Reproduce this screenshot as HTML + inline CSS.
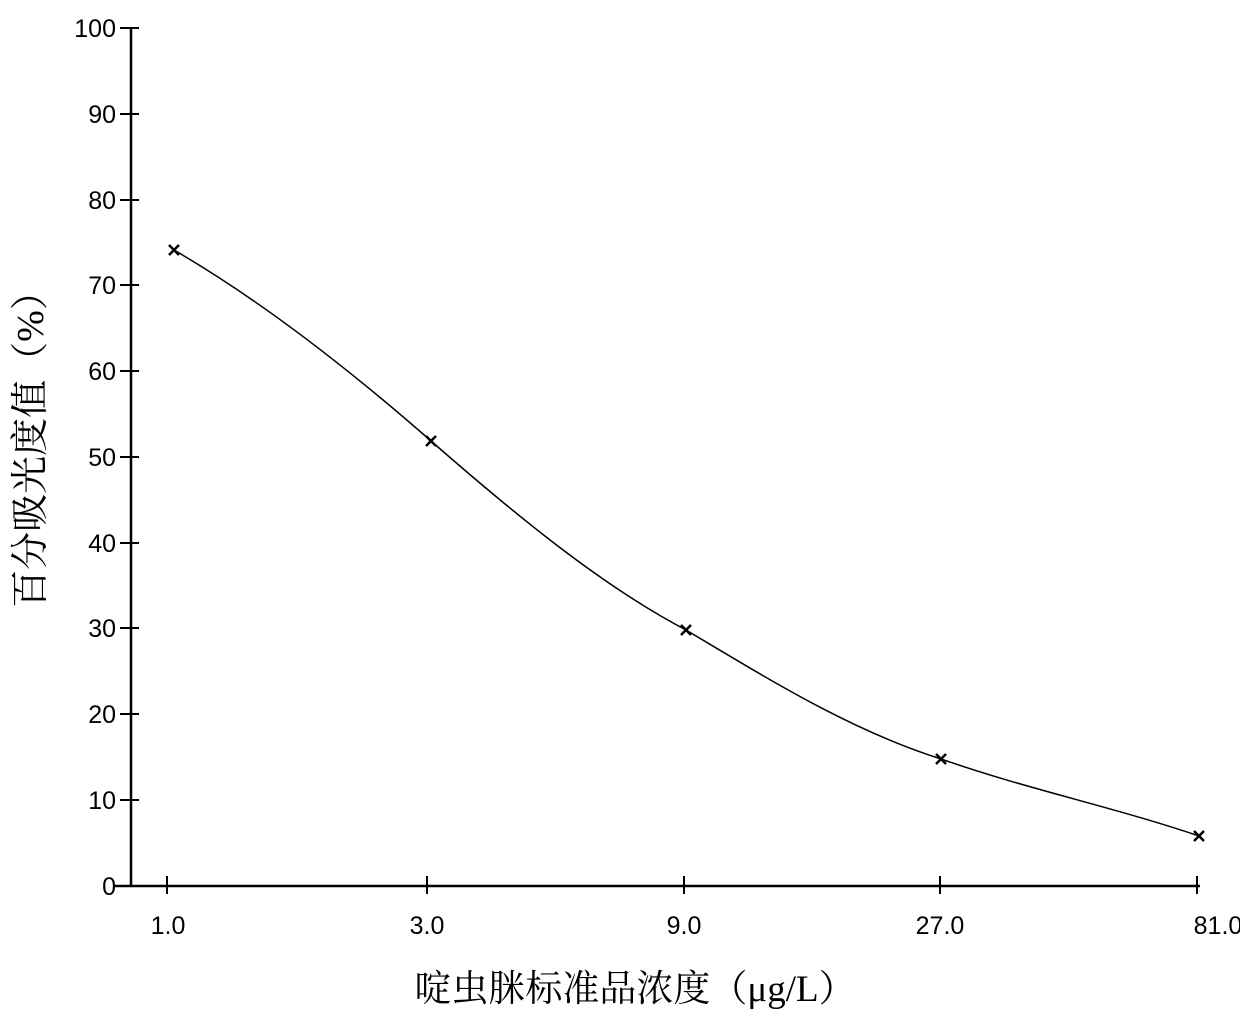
<!DOCTYPE html>
<html><head><meta charset="utf-8"><style>body{margin:0;background:#fff}</style></head><body>
<svg width="1240" height="1024" xmlns="http://www.w3.org/2000/svg" font-family="Liberation Sans, Noto Sans CJK SC, sans-serif">
<g stroke="#000" stroke-width="2.5" fill="none">
<line x1="131" y1="28" x2="131" y2="886"/>
<line x1="113" y1="886" x2="1200" y2="886"/>
<g stroke-width="2">
<line x1="120" y1="28" x2="139" y2="28"/>
<line x1="120" y1="114" x2="139" y2="114"/>
<line x1="120" y1="200" x2="139" y2="200"/>
<line x1="120" y1="285" x2="139" y2="285"/>
<line x1="120" y1="371" x2="139" y2="371"/>
<line x1="120" y1="457" x2="139" y2="457"/>
<line x1="120" y1="543" x2="139" y2="543"/>
<line x1="120" y1="628" x2="139" y2="628"/>
<line x1="120" y1="714" x2="139" y2="714"/>
<line x1="120" y1="800" x2="139" y2="800"/>
<line x1="167" y1="876" x2="167" y2="894"/>
<line x1="427" y1="876" x2="427" y2="894"/>
<line x1="684" y1="876" x2="684" y2="894"/>
<line x1="940" y1="876" x2="940" y2="894"/>
<line x1="1197" y1="876" x2="1197" y2="894"/>
</g>
</g>
<g font-size="25" text-anchor="end" fill="#000">
<text x="116" y="37">100</text><text x="116" y="123">90</text><text x="116" y="209">80</text>
<text x="116" y="294">70</text><text x="116" y="380">60</text><text x="116" y="466">50</text>
<text x="116" y="552">40</text><text x="116" y="637">30</text><text x="116" y="723">20</text>
<text x="116" y="809">10</text><text x="116" y="895">0</text>
</g>
<g font-size="25" text-anchor="middle">
<text x="168" y="934">1.0</text><text x="427" y="934">3.0</text><text x="684" y="934">9.0</text>
<text x="940" y="934">27.0</text><text x="1218" y="934">81.0</text>
</g>
<text x="635" y="1001" font-size="37" text-anchor="middle" font-family="Liberation Serif, Noto Serif CJK SC, serif">啶虫脒标准品浓度（μg/L）</text>
<text transform="translate(43,440) rotate(-90)" font-size="38" text-anchor="middle" font-family="Liberation Serif, Noto Serif CJK SC, serif">百分吸光度值（%）</text>
<path d="M174,250 C260,300 350,370 431,441 C510,510 600,585 686,630 C770,680 850,730 941,759 C1030,790 1110,806 1199,836" stroke="#000" stroke-width="1.5" fill="none"/>
<g stroke="#000" stroke-width="2.5">
<path d="M169,245l10,10M179,245l-10,10"/>
<path d="M426,436l10,10M436,436l-10,10"/>
<path d="M681,625l10,10M691,625l-10,10"/>
<path d="M936,754l10,10M946,754l-10,10"/>
<path d="M1194,831l10,10M1204,831l-10,10"/>
</g>
</svg>
</body></html>
